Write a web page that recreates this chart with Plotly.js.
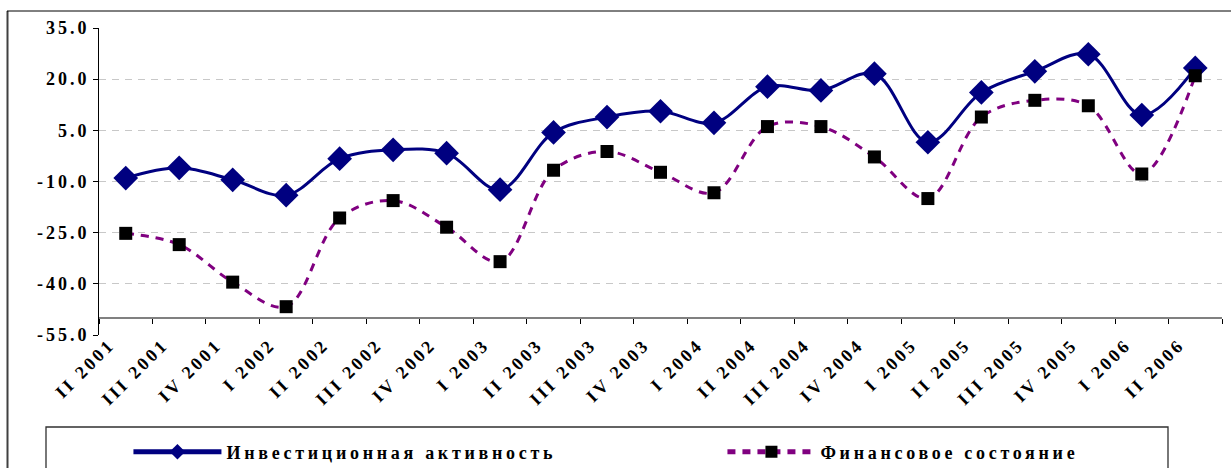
<!DOCTYPE html>
<html>
<head>
<meta charset="utf-8">
<script src="https://cdn.plot.ly/plotly-3.0.1.min.js"></script>
<style>
  html, body { margin: 0; padding: 0; background: #fff; }
  #chart { width: 1231px; height: 468px; }
  .xtick text, .ytick text { letter-spacing: 3px; }
  .legendtext { letter-spacing: 3.7px; }
</style>
</head>
<body>
<div id="chart"></div>
<script>
const categories = ["II 2001", "III 2001", "IV 2001", "I 2002", "II 2002", "III 2002", "IV 2002",
  "I 2003", "II 2003", "III 2003", "IV 2003", "I 2004", "II 2004", "III 2004", "IV 2004",
  "I 2005", "II 2005", "III 2005", "IV 2005", "I 2006", "II 2006"];
const investActivity = [-9.0, -6.0, -9.5, -14.0, -3.3, -0.7, -1.7, -12.4, 4.4, 8.9, 10.6,
  7.2, 17.8, 16.7, 21.6, 1.5, 16.1, 22.3, 27.3, 9.5, 23.3];
const financeState = [-25.2, -28.5, -39.5, -46.7, -20.7, -15.6, -23.4, -33.5, -6.7, -1.2, -7.3,
  -13.3, 6.1, 6.1, -2.8, -15.0, 8.9, 13.8, 12.2, -7.8, 21.0];
const seriesNames = ["Инвестиционная активность", "Финансовое состояние"];
const yTickVals = [-55, -40, -25, -10, 5, 20, 35];
const yTickText = ["-55.0", "-40.0", "-25.0", "-10.0", "5.0", "20.0", "35.0"];

const FONT = "Liberation Serif, Times New Roman, serif";
const yMin = -55, yMax = 35, xCross = -50;
const mkFont = () => ({ family: FONT, size: 18, weight: "bold", color: "#000" });

const traces = [
  {
    x: categories, y: investActivity, name: seriesNames[0], type: "scatter", mode: "lines+markers",
    line: { color: "#000080", width: 3, shape: "spline", smoothing: 1 },
    marker: { symbol: "diamond", size: 19, color: "#000080" }
  },
  {
    x: categories, y: financeState, name: seriesNames[1], type: "scatter", mode: "lines+markers",
    line: { color: "#800080", width: 3, dash: "8px,7px", shape: "spline", smoothing: 1 },
    marker: { symbol: "square", size: 13, color: "#000000", line: { width: 0 } }
  }
];

const plotL = 99, plotR = 9, plotT = 28, plotB = 133;
const W = 1231, H = 468;
const pw = W - plotL - plotR, ph = H - plotT - plotB;
const px = v => (v - plotL) / pw;   // page x -> paper
const py = v => (H - plotB - v) / ph; // page y -> paper

const layout = {
  width: W, height: H,
  font: mkFont(),
  margin: { l: plotL, r: plotR, t: plotT, b: plotB, pad: 0, autoexpand: false },
  paper_bgcolor: "#fff", plot_bgcolor: "#fff",
  showlegend: true,
  xaxis: {
    type: "category", range: [-0.5, categories.length - 0.5],
    anchor: "free", position: (xCross - yMin) / (yMax - yMin),
    showline: true, linecolor: "#808080", linewidth: 2,
    ticks: "outside", tickson: "boundaries", ticklen: 5, tickcolor: "#000", tickwidth: 1,
    tickangle: -45, showgrid: false, zeroline: false, automargin: false,
    tickfont: mkFont(),
    ticklabelstandoff: 8, ticklabelshift: -16
  },
  yaxis: {
    range: [yMin, yMax], tickmode: "array", tickvals: yTickVals, ticktext: yTickText,
    showline: true, linecolor: "#000", linewidth: 1,
    ticks: "outside", ticklen: 5, tickcolor: "#000", tickwidth: 1,
    showgrid: true, gridcolor: "#c8c8c8", gridwidth: 1, griddash: "7px,6px",
    zeroline: false, automargin: false,
    tickfont: mkFont(),
    ticklabelstandoff: 0
  },
  legend: {
    x: -0.0005, xanchor: "left", y: py(452), yanchor: "middle",
    orientation: "h", bgcolor: "rgba(0,0,0,0)", borderwidth: 0,
    font: mkFont(), itemwidth: 88, itemsizing: "constant",
    indentation: 30, entrywidth: 461, entrywidthmode: "pixels"
  },
  shapes: [
    { type: "line", xref: "paper", yref: "paper", x0: px(7.5), x1: px(7.5), y0: py(11), y1: py(520),
      line: { color: "#404040", width: 2 } },
    { type: "line", xref: "paper", yref: "paper", x0: px(7), x1: px(1240), y0: py(11), y1: py(11),
      line: { color: "#000", width: 1 } },
    { type: "rect", xref: "paper", yref: "paper", x0: px(46), x1: px(1168), y0: py(520), y1: py(427),
      line: { color: "#303030", width: 1.3 }, fillcolor: "rgba(0,0,0,0)" }
  ]
};

Plotly.newPlot("chart", traces, layout, { displayModeBar: false, staticPlot: true });
</script>
</body>
</html>
